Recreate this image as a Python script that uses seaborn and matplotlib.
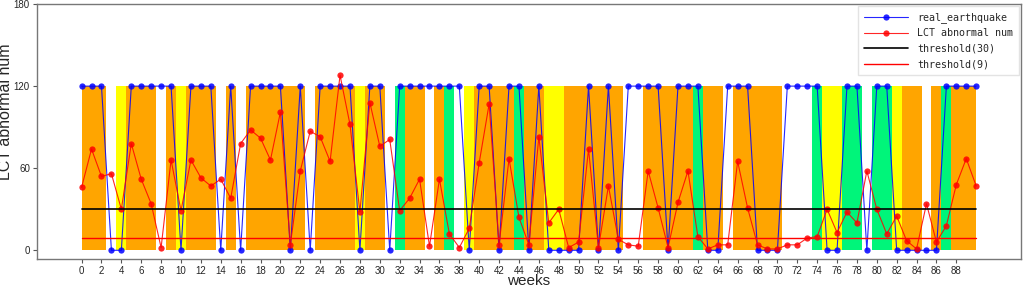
import numpy as np
import pandas as pd
import matplotlib
matplotlib.use('Agg')
import matplotlib.pyplot as plt
import seaborn as sns

# weekly data, weeks 0..90
weeks = list(range(91))

real_earthquake = [120, 120, 120, 0, 0, 120, 120, 120, 120, 120,
                   0, 120, 120, 120, 0, 120, 0, 120, 120, 120,
                   120, 0, 120, 0, 120, 120, 120, 120, 0, 120,
                   120, 0, 120, 120, 120, 120, 120, 120, 120, 0,
                   120, 120, 0, 120, 120, 0, 120, 0, 0, 0,
                   0, 120, 0, 120, 0, 120, 120, 120, 120, 0,
                   120, 120, 120, 0, 0, 120, 120, 120, 0, 0,
                   0, 120, 120, 120, 120, 0, 0, 120, 120, 0,
                   120, 120, 0, 0, 0, 0, 0, 120, 120, 120,
                   120]

lct_abnormal = [46, 74, 54, 56, 30, 78, 52, 34, 2, 66,
                29, 66, 53, 47, 52, 38, 78, 88, 82, 66,
                101, 4, 58, 87, 83, 65, 128, 92, 28, 108,
                76, 81, 29, 38, 52, 3, 52, 12, 2, 16,
                64, 107, 4, 67, 24, 4, 83, 20, 30, 2,
                6, 74, 2, 47, 8, 4, 3, 58, 31, 2,
                35, 58, 10, 1, 4, 4, 65, 31, 4, 1,
                1, 4, 4, 9, 10, 30, 13, 28, 20, 58,
                30, 12, 25, 7, 1, 34, 6, 18, 48, 67,
                47]

# background state per week: O=orange, Y=yellow, G=green, W=none
week_state = list("OOOWYOOOWOYOOOWOWOOOOOOWOOOOYOOWGOOWOGWYOOOOGOOYYOOOOOOWWOOOOOGOOWOOOOOWWWGYYGGWGGYOOWOGOOO")

threshold_high = 30
threshold_low = 9

state_colors = {'O': '#FFA500', 'Y': '#FFFF00', 'G': '#00F57A'}

df = pd.DataFrame({'week': weeks, 'real_earthquake': real_earthquake,
                   'LCT abnormal num': lct_abnormal, 'state': week_state})

sns.set_style("white")
plt.rcParams['font.family'] = ['Liberation Sans', 'DejaVu Sans']

fig, ax = plt.subplots(figsize=(10.24, 2.88), dpi=100)
fig.subplots_adjust(left=0.036, right=0.997, top=0.986, bottom=0.1)

for key, col in state_colors.items():
    mask = (df['state'] == key).astype(float) * 120
    ax.fill_between(df['week'], 0, mask, step='mid', color=col, linewidth=0)

sns.lineplot(data=df, x='week', y='real_earthquake', color='blue', marker='o',
             markersize=4.5, markeredgewidth=0, linewidth=0.8, alpha=0.85,
             label='real_earthquake', ax=ax)
sns.lineplot(data=df, x='week', y='LCT abnormal num', color='red', marker='o',
             markersize=4.5, markeredgewidth=0, linewidth=0.8, alpha=0.85,
             label='LCT abnormal num', ax=ax)
ax.plot([weeks[0], weeks[-1]], [threshold_high] * 2, color='black', linewidth=1.2,
        label='threshold(30)')
ax.plot([weeks[0], weeks[-1]], [threshold_low] * 2, color='red', linewidth=1.0,
        label='threshold(9)')

ax.set_xlim(-4.5, 94.5)
ax.set_ylim(-6.5, 180)
ax.set_xticks(range(0, 89, 2))
ax.set_yticks([0, 60, 120, 180])
ax.tick_params(axis='both', labelsize=7, length=3, width=0.8, color='#555555',
               direction='out', bottom=True, left=True, pad=2)
for s in ax.spines.values():
    s.set_color('#777777')
    s.set_linewidth(1.0)

ax.set_xlabel('weeks', fontsize=11, labelpad=-1.5)
ax.set_ylabel('LCT abnormal num', fontsize=11.5)
ax.yaxis.set_label_coords(-0.024, 0.578)

ax.legend(loc='upper right', bbox_to_anchor=(1.0, 1.0),
          prop={'family': 'DejaVu Sans Mono', 'size': 7.2},
          handlelength=4.4, handletextpad=0.9, frameon=True, edgecolor='#dddddd',
          fancybox=False, borderpad=0.6, labelspacing=0.55, borderaxespad=0.2)

plt.savefig('out.png', dpi=100)
